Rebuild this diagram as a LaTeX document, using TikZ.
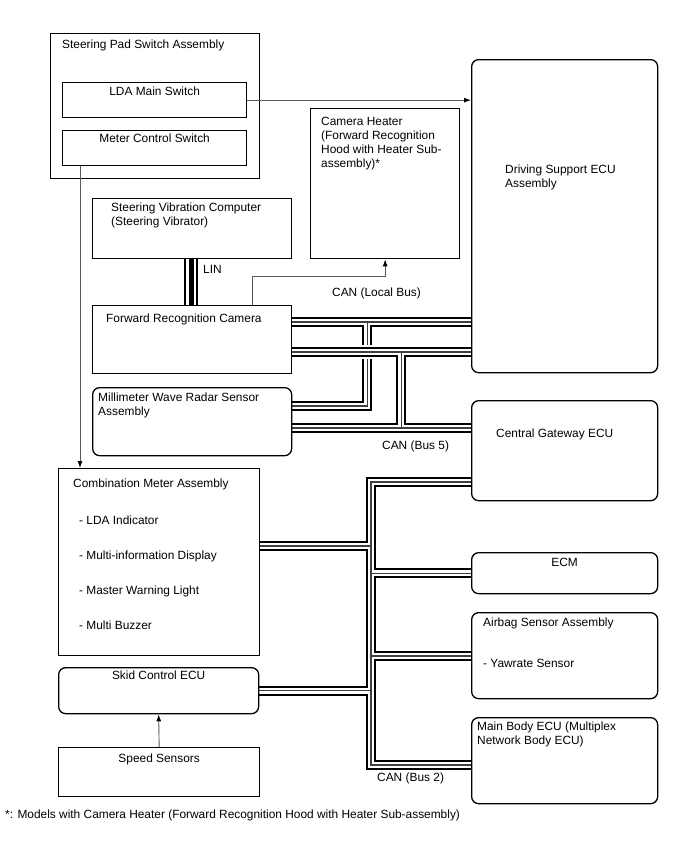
\documentclass[tikz,border=0pt]{standalone}
\usepackage{fontspec}
\setmainfont{Liberation Sans}
\setsansfont{Liberation Sans}
\usetikzlibrary{arrows.meta, positioning, calc}
\pgfdeclarelayer{bg}
\pgfsetlayers{bg,main}
\tikzset{
  every picture/.style={font=\sffamily\fontsize{11.9}{14}\selectfont, >=Latex},
  box/.style={draw=black, line width=1.3pt, inner sep=0pt, anchor=north west},
  rbox/.style={box, rounded corners=7pt},
  txt/.style={inner sep=0pt, anchor=north west, align=left},
  sig/.style={-{Latex[length=7pt,width=5pt,color=black]}, draw=black!65, line width=0.9pt},
  can/.style={draw=black!75, line width=1.2pt, preaction={draw=black, line width=10pt},
              preaction={draw=white, line width=6pt}},
  canx/.style={preaction={draw=white, line width=14pt}, can},
  lin/.style={draw=black, line width=5pt, preaction={draw=black, line width=14pt},
              preaction={draw=white, line width=10pt}},
}

\begin{document}
\begin{tikzpicture}[x=1pt, y=-1pt]
  \useasboundingbox (0,0) rectangle (688,852);
  % switches
  \node[box, minimum width=209, minimum height=145] (spsa) at (50,33) {};
  \node[txt] (spsa-t) at (62,40) {Steering Pad Switch Assembly};
  \node[box, minimum width=184, minimum height=35] (lda) at (62,82) {};
  \node[txt, below=5pt of lda.north] (lda-t) {LDA Main Switch};
  \node[box, minimum width=184, minimum height=35] (mcs) at (62,130) {};
  \node[txt, below=4pt of mcs.north] (mcs-t) {Meter Control Switch};
  % right column
  \node[rbox, minimum width=186, minimum height=313] (ds) at (471,59) {};
  \node[txt] (ds-t) at (505,165) {Driving Support ECU\\Assembly};
  \node[box, minimum width=149, minimum height=150] (ch) at (310,108) {};
  \node[txt] (ch-t) at (321,117) {Camera Heater\\(Forward Recognition\\Hood with Heater Sub-\\assembly)*};
  \node[rbox, minimum width=186, minimum height=100] (cgw) at (471,400) {};
  \node[txt] (cgw-t) at (496,429) {Central Gateway ECU};
  \node[rbox, minimum width=186, minimum height=41] (ecm) at (471,552) {};
  \node[txt, below=6pt of ecm.north] (ecm-t) {ECM};
  \node[rbox, minimum width=186, minimum height=86] (air) at (471,612) {};
  \node[txt] (air-t) at (483,618) {Airbag Sensor Assembly};
  \node[txt] (yaw-t) at (483,659) {- Yawrate Sensor};
  \node[rbox, minimum width=186, minimum height=86] (mb) at (471,717) {};
  \node[txt] (mb-t) at (477,722) {Main Body ECU (Multiplex\\Network Body ECU)};
  % left column
  \node[box, minimum width=199, minimum height=60] (svc) at (92,198) {};
  \node[txt] (svc-t) at (111,203) {Steering Vibration Computer\\(Steering Vibrator)};
  \node[box, minimum width=199, minimum height=68] (frc) at (92,305) {};
  \node[txt] (frc-t) at (106,314) {Forward Recognition Camera};
  \node[rbox, minimum width=199, minimum height=68] (mwr) at (92,387) {};
  \node[txt] (mwr-t) at (98,393) {Millimeter Wave Radar Sensor\\Assembly};
  \node[box, minimum width=201, minimum height=187] (cma) at (58,468) {};
  \node[txt] (cma-t) at (73,479) {Combination Meter Assembly};
  \node[txt, font=\sffamily\fontsize{11.9}{35}\selectfont] (cma-l) at (79,516)
    {- LDA Indicator\\- Multi-information Display\\- Master Warning Light\\- Multi Buzzer};
  \node[rbox, minimum width=200, minimum height=46] (skid) at (58,667) {};
  \node[txt, below=4pt of skid.north] (skid-t) {Skid Control ECU};
  \node[box, minimum width=201, minimum height=49] (spd) at (58,747) {};
  \node[txt, below=7pt of spd.north] (spd-t) {Speed Sensors};
  % bus labels
  \node[txt] (lin-t) at (203,265) {LIN};
  \node[txt] (loc-t) at (332,288) {CAN (Local Bus)};
  \node[txt] (b5-t) at (382,441) {CAN (Bus 5)};
  \node[txt] (b2-t) at (377,773) {CAN (Bus 2)};
  \node[txt] (fn) at (5,810) {*: Models with Camera Heater (Forward Recognition Hood with Heater Sub-assembly)};

  % signal lines
  \draw[sig] (lda.east) -- (lda.east -| ds.west);
  \draw[sig] ([xshift=18pt]mcs.south west) coordinate (m1) -- (m1 |- cma.north);
  \draw[sig] (spd.north) -- (skid.south);
  \draw[sig] ([xshift=-40pt]frc.north east) -- ++(0,-29) -| (ch.south);

  \begin{pgfonlayer}{bg}
    \coordinate (a1) at ([yshift=-17pt]frc.north east);
    \coordinate (a2) at ([yshift=-19pt]mwr.north east);
    \coordinate (a3) at ([xshift=75pt]a1);
    \coordinate (b1) at ([yshift=-47pt]frc.north east);
    \coordinate (b2) at ([yshift=-41pt]mwr.north east);
    \coordinate (c0) at ([yshift=-82pt]cgw.north west);
    \coordinate (c1) at ([yshift=-48pt]mb.north west);
    \coordinate (c2) at ([yshift=-44pt]air.north west);
    \coordinate (c3) at ([yshift=-78pt]cma.north east);
    % CAN local bus
    \draw[can] (a1) -- (a1 -| ds.west) (a2) -| (a3);
    \draw[canx] (b1) -- (b1 -| ds.west) (b2) -- (b2 -| cgw.west)
      ([xshift=109pt]b1) -- ([xshift=109pt]b2);
    % CAN bus 2
    \draw[can] (c0) -- ++(-100,0) |- (c1)
      (c3) -- ++(112,0) (ecm.west) -- ++(-100,0) (c2) -- ++(-100,0)
      (skid.east) -- ++(113,0);
    % LIN
    \draw[lin] ([xshift=99pt]svc.south west) -- ([xshift=99pt]frc.north west);
  \end{pgfonlayer}
\end{tikzpicture}
\end{document}
